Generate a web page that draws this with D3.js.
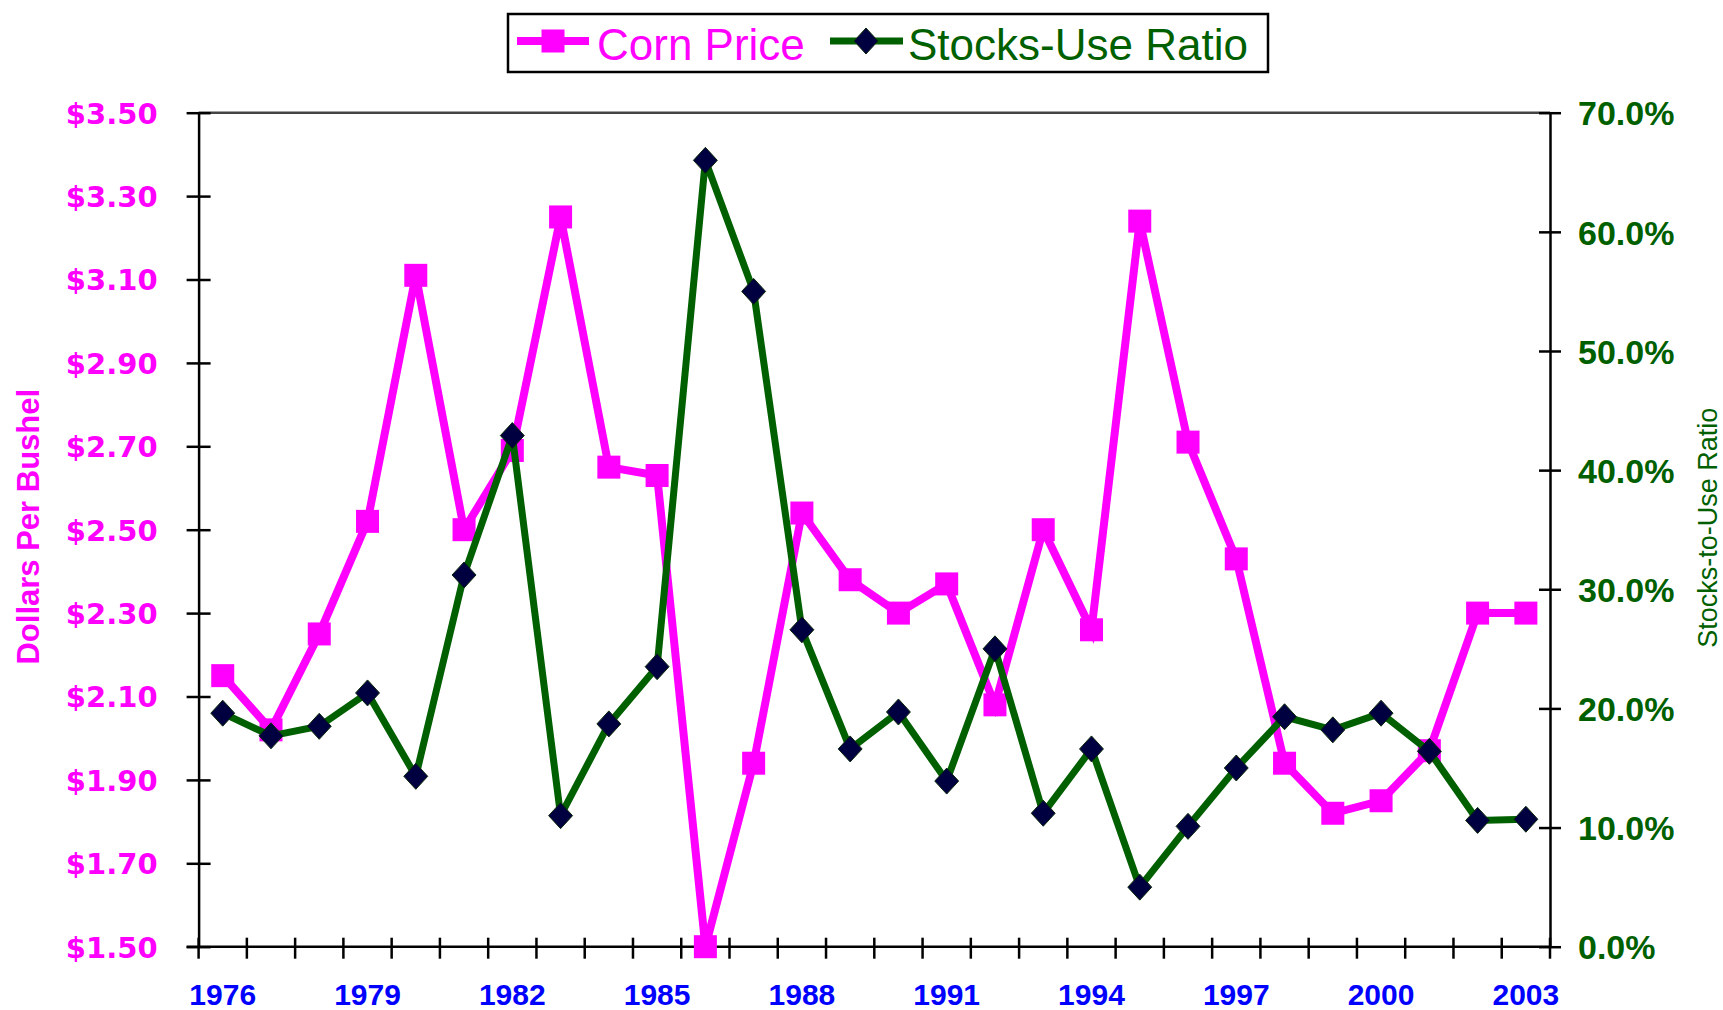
<!DOCTYPE html>
<html>
<head>
<meta charset="utf-8">
<script src="https://cdn.jsdelivr.net/npm/d3@7"></script>
<style>
  html, body { margin: 0; padding: 0; background: #fff; }
  svg { display: block; }
</style>
</head>
<body>
<svg id="chart" width="1723" height="1010"></svg>
<script>
// ---- data ----
const years = [1976,1977,1978,1979,1980,1981,1982,1983,1984,1985,1986,1987,1988,1989,1990,
               1991,1992,1993,1994,1995,1996,1997,1998,1999,2000,2001,2002,2003];
const cornPrice = [2.15,2.02,2.25,2.52,3.11,2.50,2.69,3.25,2.65,2.63,1.50,1.94,2.54,2.38,2.30,
                   2.37,2.08,2.50,2.26,3.24,2.71,2.43,1.94,1.82,1.85,1.97,2.30,2.30];
const stocksUse = [19.6,17.7,18.5,21.3,14.3,31.2,42.9,11.0,18.7,23.5,66.0,55.0,26.6,16.6,19.7,
                   13.9,25.0,11.2,16.6,5.0,10.1,15.0,19.3,18.2,19.6,16.4,10.6,10.7];
const priceTicks = [1.5,1.7,1.9,2.1,2.3,2.5,2.7,2.9,3.1,3.3,3.5];
const pctTicks = [0,10,20,30,40,50,60,70];
const yearLabels = [1976,1979,1982,1985,1988,1991,1994,1997,2000,2003];
const seriesNames = ["Corn Price", "Stocks-Use Ratio"];

// ---- layout ----
const L = 198.6, R = 1550, T = 112.7, B = 946.7;
const MAG = "#FF00FF", GRN = "#006000", NAVY = "#000040", BLUE = "#0000FF";

const svg = d3.select("#chart");

const x = d3.scaleBand().domain(years).range([L, R]).padding(0);
const yL = d3.scaleLinear().domain([1.5, 3.5]).range([B, T]);
const yR = d3.scaleLinear().domain([0, 70]).range([B, T]);
const cx = d => x(d) + x.bandwidth() / 2;

// top frame line
svg.append("line").attr("x1", L).attr("x2", R).attr("y1", T).attr("y2", T)
  .attr("stroke", "#444").attr("stroke-width", 2.5);

// left axis
const gL = svg.append("g").attr("transform", `translate(${L},0)`)
  .call(d3.axisLeft(yL).tickValues(priceTicks).tickSize(11).tickSizeOuter(0).tickFormat(d => "$" + d3.format(".2f")(d)));
gL.select(".domain").attr("stroke", "#000").attr("stroke-width", 2.5);
gL.selectAll(".tick line").attr("x1", -12).attr("x2", 12).attr("stroke", "#000").attr("stroke-width", 2.5);
gL.selectAll(".tick text").attr("x", -41).attr("dy", "0.36em")
  .attr("fill", MAG).attr("font-family", "'DejaVu Sans', sans-serif").attr("font-weight", "bold")
  .attr("font-size", 29);

// right axis
const gR = svg.append("g").attr("transform", `translate(${R},0)`)
  .call(d3.axisRight(yR).tickValues(pctTicks).tickSize(11).tickSizeOuter(0).tickFormat(d => d3.format(".1f")(d) + "%"));
gR.select(".domain").attr("stroke", "#000").attr("stroke-width", 2.5);
gR.selectAll(".tick line").attr("x1", -11).attr("x2", 11).attr("stroke", "#000").attr("stroke-width", 2.5);
gR.selectAll(".tick text").attr("x", 28).attr("dy", "0.36em")
  .attr("fill", GRN).attr("font-family", "'Liberation Sans', Arial, sans-serif").attr("font-weight", "bold")
  .attr("font-size", 34);

// bottom axis (ticks at band boundaries)
const bounds = years.map(d => x(d)).concat([R]);
svg.append("line").attr("x1", L - 12).attr("x2", R).attr("y1", B).attr("y2", B)
  .attr("stroke", "#000").attr("stroke-width", 2.5);
svg.append("g").selectAll("line").data(bounds).join("line")
  .attr("x1", d => d).attr("x2", d => d).attr("y1", B - 9).attr("y2", B + 12)
  .attr("stroke", "#000").attr("stroke-width", 2.5);
svg.append("g").selectAll("text").data(yearLabels).join("text")
  .attr("x", d => cx(d)).attr("y", 1005)
  .attr("text-anchor", "middle")
  .attr("fill", BLUE).attr("font-family", "'Liberation Sans', Arial, sans-serif").attr("font-weight", "bold")
  .attr("font-size", 30).text(d => d);

// axis titles
svg.append("text").attr("transform", `translate(39,${(T + B) / 2 - 3}) rotate(-90)`)
  .attr("text-anchor", "middle").attr("fill", MAG)
  .attr("font-family", "'Liberation Sans', Arial, sans-serif").attr("font-weight", "bold")
  .attr("font-size", 31).text("Dollars Per Bushel");
svg.append("text").attr("transform", `translate(1717,${(T + B) / 2 - 2}) rotate(-90)`)
  .attr("text-anchor", "middle").attr("fill", GRN)
  .attr("font-family", "'Liberation Sans', Arial, sans-serif")
  .attr("font-size", 27).text("Stocks-to-Use Ratio");

// corn price series
const lineP = d3.line().x((d, i) => cx(years[i])).y(d => yL(d));
svg.append("path").datum(cornPrice).attr("d", lineP)
  .attr("fill", "none").attr("stroke", MAG).attr("stroke-width", 8).attr("stroke-linejoin", "miter");
const sq = 23;
svg.append("g").selectAll("rect").data(cornPrice).join("rect")
  .attr("x", (d, i) => cx(years[i]) - sq / 2).attr("y", d => yL(d) - sq / 2)
  .attr("width", sq).attr("height", sq).attr("fill", MAG);

// stocks-use series
const lineS = d3.line().x((d, i) => cx(years[i])).y(d => yR(d));
svg.append("path").datum(stocksUse).attr("d", lineS)
  .attr("fill", "none").attr("stroke", GRN).attr("stroke-width", 7).attr("stroke-linejoin", "miter");
const dm = 13;
const diamond = (px, py) => `M${px},${py - dm}L${px + dm * 0.92},${py}L${px},${py + dm}L${px - dm * 0.92},${py}Z`;
svg.append("g").selectAll("path").data(stocksUse).join("path")
  .attr("d", (d, i) => diamond(cx(years[i]), yR(d)))
  .attr("fill", NAVY).attr("stroke", "#0a2a0a").attr("stroke-width", 1);

// legend
const lg = svg.append("g");
lg.append("rect").attr("x", 508).attr("y", 14).attr("width", 760).attr("height", 58)
  .attr("fill", "#fff").attr("stroke", "#000").attr("stroke-width", 2.5);
lg.append("line").attr("x1", 517).attr("x2", 589).attr("y1", 41).attr("y2", 41)
  .attr("stroke", MAG).attr("stroke-width", 8);
lg.append("rect").attr("x", 553 - sq / 2).attr("y", 41 - sq / 2).attr("width", sq).attr("height", sq).attr("fill", MAG);
lg.append("text").attr("x", 597).attr("y", 60).attr("fill", MAG)
  .attr("font-family", "'Liberation Sans', Arial, sans-serif").attr("font-size", 44).text(seriesNames[0]);
lg.append("line").attr("x1", 830).attr("x2", 903).attr("y1", 41).attr("y2", 41)
  .attr("stroke", GRN).attr("stroke-width", 7);
lg.append("path").attr("d", diamond(866, 41)).attr("fill", NAVY).attr("stroke", "#0a2a0a").attr("stroke-width", 1);
lg.append("text").attr("x", 908).attr("y", 60).attr("fill", GRN)
  .attr("font-family", "'Liberation Sans', Arial, sans-serif").attr("font-size", 44).text(seriesNames[1]);
</script>
</body>
</html>
